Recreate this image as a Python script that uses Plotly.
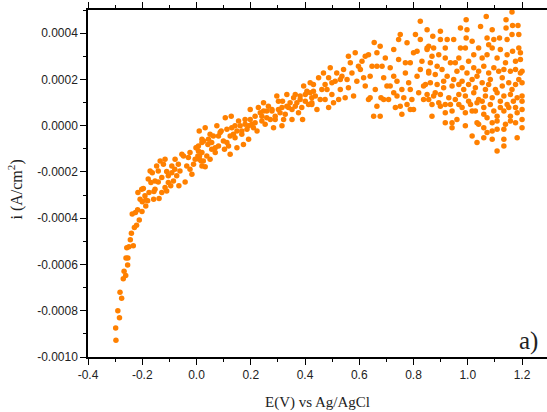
import plotly.graph_objects as go

# Potential E (V vs Ag/AgCl) and current density i.
# Current values are written in units of 1e-4 A/cm2 and scaled below.

# steep cathodic part, -0.30 .. 0.03 V
e_low = [-0.297, -0.298, -0.284, -0.290, -0.276, -0.282, -0.270, -0.261, -0.267, -0.254,
         -0.260, -0.253, -0.257, -0.249, -0.233, -0.244, -0.240, -0.229, -0.221, -0.211,
         -0.237, -0.225, -0.217, -0.201, -0.208, -0.200, -0.187, -0.216, -0.196, -0.187,
         -0.180, -0.175, -0.158, -0.157, -0.138, -0.168, -0.178, -0.163, -0.153, -0.141,
         -0.147, -0.128, -0.116, -0.122, -0.110, -0.104, -0.095, -0.085, -0.091, -0.080,
         -0.067, -0.065, -0.048, -0.042, -0.036, -0.024, -0.017, -0.011, 0.001, 0.011,
         0.020, 0.025,
         -0.171, -0.141, -0.134, -0.116, -0.104, -0.091, -0.079, -0.073, -0.061, -0.054,
         -0.030, -0.024, -0.005, 0.007, 0.020, -0.153, -0.128, -0.190, -0.202, -0.110]
i_low = [-9.28, -8.75, -8.30, -8.00, -7.46, -7.20, -6.62, -6.48, -6.29, -6.02,
         -5.72, -5.72, -5.28, -5.23, -5.19, -4.93, -4.65, -4.40, -4.30, -4.08,
         -3.82, -3.75, -3.64, -3.71, -3.18, -3.29, -3.47, -2.89, -2.72, -3.21,
         -3.25, -2.89, -3.18, -2.85, -3.15, -2.46, -2.31, -2.03, -2.39, -2.43,
         -1.74, -2.24, -2.67, -1.67, -1.98, -2.17, -2.60, -2.39, -1.74, -1.88,
         -1.67, -2.60, -1.31, -2.43, -1.74, -1.16, -2.10, -1.67, -0.95, -1.31,
         -0.73, -1.53,
         -1.96, -1.96, -1.53, -1.45, -2.46, -2.03, -1.45, -2.17, -1.96, -1.24,
         -1.38, -1.88, -1.45, -1.09, -1.74, -2.75, -2.89, -3.03, -2.75, -2.82]

# rising band, 0.0 .. 0.43 V
e_mid = [0.032, 0.010, 0.020, 0.007, 0.010, 0.032, 0.026, 0.050, 0.056, 0.044,
         0.069, 0.062, 0.081, 0.087, 0.099, 0.106, 0.128, 0.112, 0.118, 0.124,
         0.136, 0.142, 0.149, 0.155, 0.167, 0.179, 0.186, 0.192, 0.198, 0.204,
         0.216, 0.223, 0.228, 0.241, 0.247, 0.259, 0.265, 0.278, 0.284, 0.290,
         0.296, 0.302, 0.315, 0.317, 0.327, 0.333, 0.339, 0.352, 0.358, 0.364,
         0.376, 0.382, 0.391, 0.395, 0.401, 0.413, 0.419, 0.425, 0.431, 0.020, 0.075,
         -0.002, 0.005, 0.017, 0.038, 0.042, 0.050, 0.056, 0.069, 0.081, 0.091,
         0.103, 0.112, 0.124, 0.130, 0.142, 0.149, 0.161, 0.167, 0.173, 0.179,
         0.192, 0.198, 0.210, 0.216, 0.235, 0.241, 0.247, 0.253, 0.259, 0.272,
         0.278, 0.290, 0.302, 0.308, 0.315, 0.321, 0.333, 0.345, 0.352, 0.364,
         0.370, 0.382, 0.388, 0.401, 0.407, 0.419, 0.425]
i_mid = [-1.78, -1.45, -1.16, -0.88, -0.23, -0.09, -0.66, -1.45, -1.02, -0.59,
         -1.16, -0.45, -0.88, -0.30, -0.66, 0.34, 0.41, -0.16, -0.88, -1.24,
         -0.37, 0.00, -0.95, 0.20, -0.37, 0.27, -0.16, -0.59, 0.70, 0.06,
         0.41, -0.23, 0.78, 0.20, 0.63, 0.34, 0.84, 0.63, -0.09, 0.41,
         1.28, 0.70, 0.00, 1.06, 0.49, 1.35, 0.78, 0.27, 1.21, 0.84,
         0.56, 1.13, 0.27, 1.71, 1.35, 0.92, 1.85, 1.21, 1.49, -0.59, 0.00,
         -0.95, -1.31, -1.53, -1.31, -0.81, -0.37, -0.73, -0.95, -0.45, -0.23,
         -1.02, -0.73, -0.45, -0.09, -0.52, -0.23, 0.00, -0.23, -0.81, 0.06,
         0.00, 0.27, -0.09, 0.13, 0.56, 0.41, 0.99, 0.06, 0.63, 0.27,
         0.70, 0.27, 1.06, 0.56, 0.78, 0.27, 0.84, 0.99, 0.70, 1.35,
         0.99, 1.28, 0.78, 1.06, 1.49, 1.42, 0.99]

# widening band, 0.43 .. 0.86 V
e_up = [0.425, 0.438, 0.431, 0.450, 0.462, 0.456, 0.468, 0.474, 0.487, 0.487,
        0.493, 0.499, 0.505, 0.511, 0.517, 0.530, 0.536, 0.542, 0.548, 0.560,
        0.560, 0.573, 0.579, 0.585, 0.591, 0.597, 0.610, 0.616, 0.622, 0.634,
        0.634, 0.640, 0.653, 0.655, 0.659, 0.665, 0.677, 0.677, 0.680, 0.690,
        0.696, 0.708, 0.714, 0.714, 0.727, 0.733, 0.739, 0.745, 0.751, 0.757,
        0.757, 0.764, 0.770, 0.776, 0.782, 0.788, 0.794, 0.800, 0.807, 0.813,
        0.813, 0.819, 0.825, 0.825, 0.831, 0.837, 0.844, 0.850, 0.856, 0.665,
        0.727, 0.776,
        0.444, 0.474, 0.481, 0.499, 0.524, 0.530, 0.555, 0.567, 0.604, 0.622,
        0.647, 0.665, 0.684, 0.702, 0.727, 0.739, 0.745, 0.770, 0.788, 0.800,
        0.825, 0.837, 0.850, 0.856, 0.690, 0.640, 0.788, 0.751]
i_up = [0.92, 1.28, 1.78, 2.07, 1.56, 1.13, 2.28, 1.78, 0.78, 2.07,
        2.50, 1.35, 0.99, 1.92, 2.28, 1.56, 2.14, 2.43, 1.21, 3.00,
        1.64, 2.28, 1.28, 3.15, 1.92, 2.57, 2.78, 2.07, 1.71, 3.07,
        1.13, 2.14, 0.41, 3.60, 1.56, 2.57, 0.41, 3.43, 1.21, 2.07,
        2.93, 1.13, 2.50, 1.71, 3.29, 0.78, 1.92, 2.86, 3.94, 1.56,
        0.49, 1.21, 2.72, 3.58, 1.85, 2.72, 1.13, 0.70, 3.94, 3.22,
        2.14, 1.42, 4.51, 3.72, 2.78, 1.13, 1.78, 4.15, 2.28, 0.84,
        1.42, 0.92,
        0.70, 1.13, 1.56, 1.85, 1.13, 2.00, 2.00, 2.72, 2.43, 3.00,
        2.57, 3.15, 2.57, 1.71, 2.14, 1.28, 3.72, 2.28, 1.56, 3.15,
        2.43, 1.71, 3.29, 1.13, 1.13, 1.21, 0.70, 0.84]

# scattered region, 0.85 .. 1.20 V
e_high = [0.871, 0.899, 0.856, 0.874, 0.899, 0.924, 0.948, 0.973, 0.994, 0.997,
          0.994, 1.016, 1.047, 1.068, 1.071, 1.090, 1.096, 1.117, 1.141, 1.141,
          1.163, 1.165, 1.185, 1.163, 1.188, 1.145, 0.850,
          0.868, 0.893, 0.917, 0.936, 0.954, 0.973, 0.991, 1.003, 1.022, 1.040,
          1.053, 1.071, 1.090, 1.108, 1.120, 1.145, 1.165, 1.194, 1.194, 1.176, 1.139,
          0.856, 0.880, 0.905, 0.924, 0.960, 0.979, 0.997, 1.022, 1.040, 1.059,
          1.077, 1.096, 1.114, 1.133, 1.157, 1.176, 1.200, 1.194,
          0.862, 0.887, 0.911, 0.942, 0.979, 1.003, 1.028, 1.053, 1.077, 1.102,
          1.127, 1.151, 1.176, 1.200,
          0.850, 0.874, 0.899, 0.930, 0.967, 0.991, 1.022, 1.040, 1.065, 1.090,
          1.108, 1.133, 1.157, 1.182, 1.200,
          0.868, 0.893, 0.917, 0.967, 1.010, 1.034, 1.059, 1.083, 1.120, 1.145,
          1.176, 1.200, 1.200,
          0.868, 0.917, 0.942, 0.991, 1.016, 1.059, 1.108, 1.133, 1.157, 1.182,
          0.917, 0.942, 0.960, 1.034, 1.090, 1.108, 1.157, 1.200, 1.176,
          0.942, 0.991, 1.059, 1.108, 1.133, 1.200,
          1.016, 1.034, 1.059, 1.090, 1.133, 1.182, 1.108, 1.133,
          0.862, 0.887, 0.911, 0.948, 0.967, 0.985, 1.016, 1.034, 1.065, 1.083,
          1.127, 1.163, 1.188, 0.899, 0.936, 0.979, 1.028, 1.071, 1.096, 1.151,
          1.168, 0.880, 0.954, 1.003, 1.053, 1.120, 1.139, 1.071, 1.090, 1.040,
          1.188, 0.967, 0.917, 1.077]
i_high = [3.86, 4.08, 3.43, 3.36, 3.72, 3.72, 3.72, 4.22, 4.58, 4.15,
          3.79, 3.65, 4.29, 4.72, 3.79, 4.15, 3.72, 3.79, 4.58, 4.22,
          4.91, 4.33, 4.33, 3.94, 3.94, 3.72, 3.36,
          3.00, 3.07, 2.93, 2.72, 2.72, 3.36, 3.36, 2.78, 3.07, 3.36,
          2.93, 3.07, 3.36, 2.93, 3.29, 3.07, 3.22, 3.15, 2.86, 2.78, 2.72,
          2.35, 2.21, 2.43, 2.14, 2.35, 2.50, 2.28, 2.50, 2.35, 2.57,
          2.28, 2.50, 2.35, 2.43, 2.35, 2.43, 2.35, 2.28,
          1.85, 1.78, 1.64, 1.71, 1.92, 1.78, 1.64, 1.85, 1.78, 1.56,
          1.71, 1.85, 1.78, 1.85,
          1.35, 1.28, 1.35, 1.21, 1.35, 1.28, 1.42, 1.13, 1.28, 1.21,
          1.42, 1.28, 1.35, 1.21, 1.28,
          0.92, 0.99, 0.92, 0.92, 0.92, 0.99, 0.78, 0.92, 0.78, 0.92,
          0.78, 1.06, 0.70,
          0.41, 0.56, 0.63, 0.56, 0.63, 0.49, 0.41, 0.63, 0.41, 0.56,
          0.13, 0.13, 0.27, 0.13, 0.13, 0.20, 0.20, 0.27, 0.13,
          -0.09, 0.00, -0.09, -0.16, -0.16, -0.09,
          -0.45, -0.73, -0.52, -0.59, -0.59, -0.52, -1.09, -0.88,
          2.72, 2.57, 1.92, 2.00, 1.78, 1.56, 2.00, 2.14, 1.56, 2.00,
          2.07, 1.56, 2.00, 0.84, 0.92, 0.78, 0.63, 0.34, 0.63, 0.78,
          1.06, 1.42, 1.13, 1.06, 1.06, 1.06, 0.06, -0.30, -0.23, 0.06,
          3.36, 2.93, 3.36, 3.50]

x_ticks = [-0.4, -0.2, 0.0, 0.2, 0.4, 0.6, 0.8, 1.0, 1.2]
y_ticks = [-0.0010, -0.0008, -0.0006, -0.0004, -0.0002, 0.0000, 0.0002, 0.0004]

ORANGE = "rgb(255,128,0)"
SERIF = "Liberation Serif, Times New Roman, serif"

e_all = e_low + e_mid + e_up + e_high
i_all = [v * 1e-4 for v in i_low + i_mid + i_up + i_high]

fig = go.Figure()
fig.add_trace(
    go.Scatter(
        x=e_all,
        y=i_all,
        mode="markers",
        marker=dict(color=ORANGE, size=5.5, line=dict(width=0)),
        showlegend=False,
    )
)

tick_font = dict(family="Liberation Sans, Arial", size=12, color="#222")

fig.update_xaxes(
    range=[-0.4, 1.292],
    tickvals=x_ticks,
    ticktext=["%.1f" % v for v in x_ticks],
    ticks="outside", ticklen=6, tickwidth=1, tickcolor="black",
    minor=dict(dtick=0.1, tick0=-0.4, ticks="outside", ticklen=3, tickcolor="black"),
    showline=True, linecolor="black", linewidth=1.5,
    mirror="allticks",
    showgrid=False, zeroline=False,
    tickfont=tick_font,
    automargin=False,
)
fig.update_yaxes(
    range=[-0.0010, 0.0005],
    tickvals=y_ticks,
    ticktext=["%.4f" % v for v in y_ticks],
    ticks="outside", ticklen=6, tickwidth=1, tickcolor="black",
    minor=dict(dtick=0.0001, tick0=0, ticks="outside", ticklen=3, tickcolor="black"),
    showline=True, linecolor="black", linewidth=1.5,
    showgrid=False, zeroline=False,
    tickfont=tick_font,
    automargin=False,
)

# axis titles
fig.add_annotation(
    x=0.5, y=0, xref="paper", yref="paper", yshift=-45,
    xanchor="center", yanchor="middle",
    text="E(V) vs Ag/AgCl", showarrow=False,
    font=dict(family=SERIF, size=15, color="#222"),
)
fig.add_annotation(
    x=0, y=0.5, xref="paper", yref="paper", xshift=-72, yshift=-6,
    xanchor="center", yanchor="middle", textangle=-90,
    text="i (A/cm<sup>2</sup>)", showarrow=False,
    font=dict(family=SERIF, size=16, color="#222"),
)
# panel label
fig.add_annotation(
    x=1.222, y=-0.00093, xref="x", yref="y",
    xanchor="center", yanchor="middle",
    text="a)", showarrow=False,
    font=dict(family=SERIF, size=25, color="#222"),
)

fig.update_layout(
    width=547, height=412,
    margin=dict(l=88, r=0, t=10, b=55),
    plot_bgcolor="white", paper_bgcolor="white",
)

# drop the default page margin so the figure sits at the window's corner
fig.write_html(
    "out.html",
    config={"displayModeBar": False},
    post_script="document.body.style.margin='0';",
)
